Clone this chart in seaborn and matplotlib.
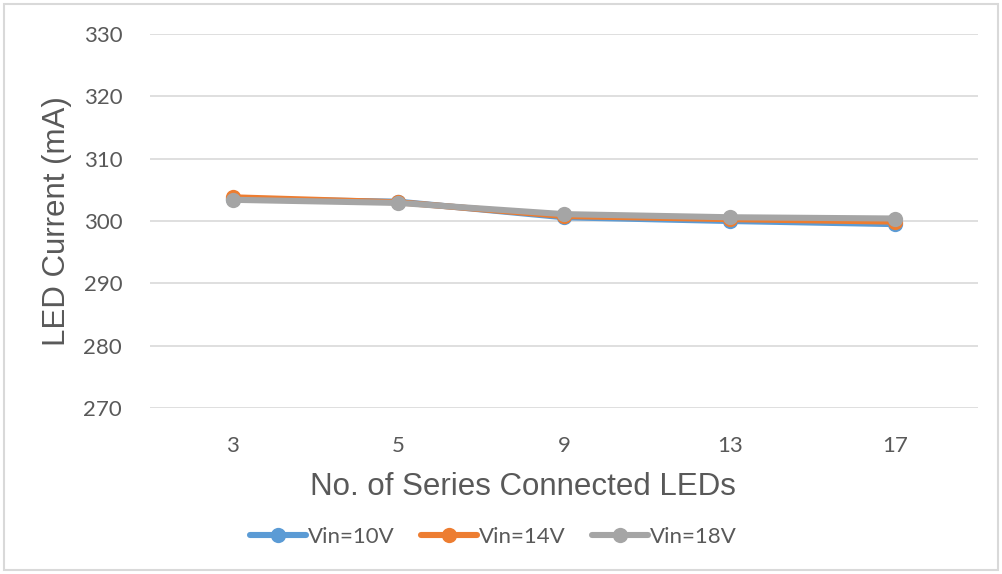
import pandas as pd
import matplotlib.pyplot as plt
import seaborn as sns
from matplotlib.patches import Rectangle

# Data
leds = ['3', '5', '9', '13', '17']
vin_10 = [303.5, 303.1, 300.6, 300.0, 299.5]
vin_14 = [303.8, 303.0, 300.8, 300.3, 299.9]
vin_18 = [303.4, 302.9, 301.1, 300.6, 300.4]
series_names = ['Vin=10V', 'Vin=14V', 'Vin=18V']
colors = ['#5B9BD5', '#ED7D31', '#A5A5A5']

df = pd.DataFrame({
    'LEDs': leds * 3,
    'Current': vin_10 + vin_14 + vin_18,
    'Series': [s for s in series_names for _ in leds],
})

sns.set_style('white')
plt.rcParams['font.family'] = ['Liberation Sans', 'DejaVu Sans']

fig = plt.figure(figsize=(10.03, 5.74), dpi=100)
ax = fig.add_axes([150 / 1003, 166 / 574, 828 / 1003, 374 / 574])

sns.lineplot(
    data=df, x='LEDs', y='Current', hue='Series',
    palette=colors, marker='o', markersize=11, markeredgewidth=0,
    linewidth=4.4, sort=False, ax=ax
)

ax.set_ylim(270, 330)
ax.set_xlim(-0.5, 4.5)
ax.set_yticks(range(270, 331, 10))
ax.grid(axis='y', color='#D9D9D9', linewidth=1.2)
ax.set_axisbelow(True)
for s in ax.spines.values():
    s.set_visible(False)
ax.tick_params(axis='both', length=0, labelsize=16, colors='#595959')
for lbl in ax.get_xticklabels() + ax.get_yticklabels():
    lbl.set_fontfamily(['Lato', 'DejaVu Sans'])
ax.tick_params(axis='x', pad=20)
ax.tick_params(axis='y', pad=20)

ax.set_xlabel('No. of Series Connected LEDs', fontsize=22.5, color='#595959')
ax.set_ylabel('LED Current (mA)', fontsize=22.5, color='#595959')
ax.xaxis.set_label_coords(0.45, -0.171)
ax.yaxis.label.set_va('center')
ax.yaxis.set_label_coords(-0.112, 0.5)

leg = ax.legend(
    loc='center', bbox_to_anchor=(0.415, -0.345), ncol=3, frameon=False,
    handlelength=2.5, handletextpad=0.1, columnspacing=1.2,
    prop={'family': ['Lato', 'DejaVu Sans'], 'size': 16}
)
for t in leg.get_texts():
    t.set_color('#595959')

fig.patches.append(Rectangle((4 / 1003, 4 / 574), 994 / 1003, 566 / 574,
                             transform=fig.transFigure, fill=False,
                             edgecolor='#D9D9D9', linewidth=1.5))

fig.savefig('out.png', dpi=100)
